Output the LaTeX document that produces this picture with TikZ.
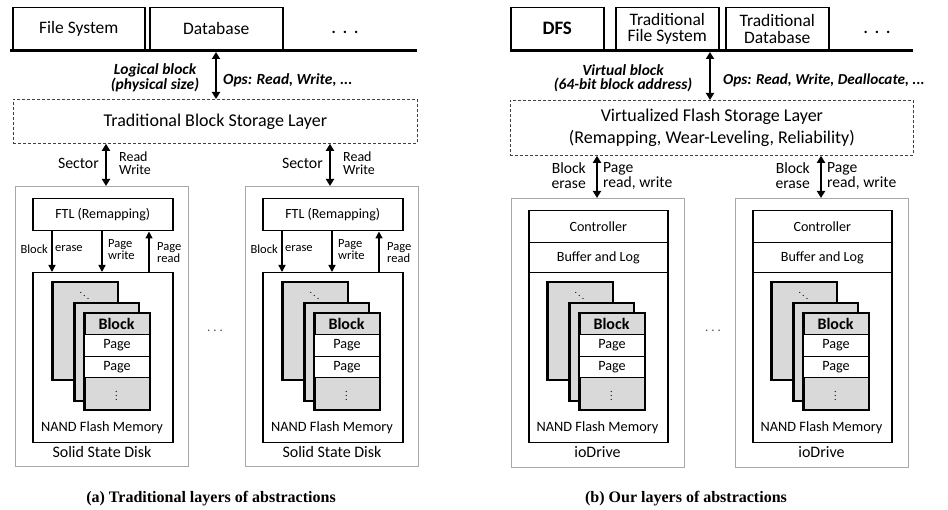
\documentclass[tikz,border=0pt]{standalone}
\usepackage{fontspec}
\setmainfont{Carlito}
\newfontfamily\capfont{Liberation Serif}
\usetikzlibrary{arrows.meta}
\newcommand\fsz[2]{\fontsize{#1}{#2}\selectfont}
\definecolor{blkgray}{HTML}{D9D9D9}
\definecolor{outgray}{HTML}{A8A8A8}
\definecolor{dashgray}{HTML}{404040}

\tikzset{
  rbox/.style={draw=black, line width=1.5pt, fill=white, inner sep=0pt},
  appbox/.style={rbox, font=\fsz{17.5}{16.5}, align=center},
  outbox/.style={draw=outgray, line width=0.8pt, inner sep=0pt},
  layerbox/.style={draw=dashgray, line width=0.8pt, dash pattern=on 3pt off 2pt, inner sep=0pt, align=center, font=\fsz{18}{22}},
  blk/.style={draw=black, line width=1.5pt, fill=blkgray, inner sep=0pt},
  pagebox/.style={draw=black, line width=1pt, fill=white, inner sep=0pt, font=\fsz{14.2}{15}},
  lbl/.style={inner sep=0pt, font=\fsz{12.5}{12}},
  ital/.style={inner sep=0pt, font=\bfseries\itshape\fsz{15.5}{14.5}, align=center},
  dbl/.style={line width=1.8pt, {Triangle[length=7pt,width=8pt]}-{Triangle[length=7pt,width=8pt]}},
  arr/.style={line width=1.4pt, -{Triangle[length=7pt,width=7pt]}},
  captext/.style={inner sep=0pt, font=\capfont\bfseries\fsz{16}{17}},
  dotsA/.style={inner sep=0pt, font=\bfseries\fsz{16}{16}},
  dotsB/.style={inner sep=0pt, font=\fsz{13}{13}, text=black!70},
  edge/.style={draw=black, line width=1.5pt},
}

% rectangle node by its corners: style, x1, y1, x2, y2, name ; text follows
\newcommand\rb[6]{\node[#1, anchor=north west, minimum width={((#4)-(#2))*1pt}, minimum height={((#5)-(#3))*1pt}] (#6) at (#2,#3)}

% block stack: #1 prefix, #2 left x of back block
\newcommand\blockstack[2]{%
  \rb{blk}{#2}{282}{#2+65}{379}{#1b1} {};
  \draw[edge] (#1b1.north west) rectangle (#1b1.south east);
  \node[inner sep=0pt] (#1dd) at (#2+32.5,293) {$\ddots$};
  \rb{blk}{#2+22}{303}{#2+86}{400}{#1b2} {};
  \draw[edge] (#1b2.north west) rectangle (#1b2.south east);
  \rb{blk}{#2+32}{313}{#2+97}{409}{#1b3} {};
  \rb{pagebox}{#2+32}{334}{#2+97}{356}{#1p1} {Page};
  \rb{pagebox}{#2+32}{356}{#2+97}{377}{#1p2} {Page};
  \node[inner sep=0pt, font=\bfseries\fsz{16}{16}] (#1bh) at (#2+64.5,324) {Block};
  \node[inner sep=0pt] (#1vd) at (#2+64.5,393) {$\vdots$};
  \draw[edge] (#1b3.north west) rectangle (#1b3.south east);
}

% SSD unit: #1 prefix, #2 x0 (outer left), #3 sector arrow x
\newcommand\ssdunit[3]{%
  \rb{outbox}{#2}{186}{#2+173}{466}{#1out} {};
  \rb{rbox, font=\fsz{14}{15}}{#2+17}{198}{#2+157}{230}{#1ftl} {FTL (Remapping)};
  \rb{rbox}{#2+17}{272}{#2+157}{442}{#1nand} {};
  \blockstack{#1s}{#2+37}
  \node[inner sep=0pt, font=\fsz{14.3}{15}] (#1nt) at (#2+87,428) {NAND Flash Memory};
  \node[inner sep=0pt, font=\fsz{16}{17}] (#1st) at (#2+87,452) {Solid State Disk};
  \coordinate (#1c1) at (#2+37,0);
  \coordinate (#1c2) at (#2+87,0);
  \coordinate (#1c3) at (#2+134,0);
  \coordinate (#1ca) at (#3,0);
  \draw[arr] (#1ftl.south -| #1c1) -- (#1nand.north -| #1c1);
  \draw[arr] (#1ftl.south -| #1c2) -- (#1nand.north -| #1c2);
  \draw[arr] (#1nand.north -| #1c3) -- (#1ftl.south -| #1c3);
  \node[lbl, anchor=east] (#1l1) at (#2+33,249) {Block};
  \node[lbl, anchor=west] (#1l2) at (#2+40,249) {erase};
  \node[lbl, anchor=west, align=left] (#1l3) at (#2+93,250) {Page\\write};
  \node[lbl, anchor=west, align=left] (#1l4) at (#2+142,253) {Page\\read};
  \draw[dbl] (layerA.south -| #1ca) -- (#1out.north -| #1ca);
  \node[inner sep=0pt, font=\fsz{15.8}{16}, anchor=east] (#1sec) at (#3-7,163) {Sector};
  \node[inner sep=0pt, font=\fsz{14}{13}, anchor=west, align=left] (#1rw) at (#3+13,163.5) {Read\\Write};
}

% ioDrive unit: #1 prefix, #2 x0 (outer left)
\newcommand\iounit[2]{%
  \rb{outbox}{#2}{198}{#2+173}{467}{#1out} {};
  \rb{rbox, font=\fsz{14.1}{15}}{#2+17}{210}{#2+156}{242}{#1ctl} {Controller};
  \rb{rbox, font=\fsz{14.1}{15}}{#2+17}{242}{#2+156}{272}{#1buf} {Buffer and Log};
  \rb{rbox}{#2+17}{272}{#2+156}{442}{#1nand} {};
  \blockstack{#1s}{#2+36}
  \node[inner sep=0pt, font=\fsz{14.3}{15}] (#1nt) at (#2+86.5,428) {NAND Flash Memory};
  \node[inner sep=0pt, font=\fsz{16}{17}] (#1st) at (#2+86.5,452) {ioDrive};
  \coordinate (#1ca) at (#2+86,0);
  \draw[dbl] (layerB.south -| #1ca) -- (#1out.north -| #1ca);
  \node[inner sep=0pt, font=\fsz{15.6}{15}, anchor=east, align=right] (#1be) at (#2+75,176) {Block\\erase};
  \node[inner sep=0pt, font=\fsz{15.6}{15}, anchor=west, align=left] (#1pr) at (#2+92,176) {Page\\read, write};
}

\begin{document}
\begin{tikzpicture}[x=1pt,y=-1pt]
\useasboundingbox[fill=white] (0,0) rectangle (948,510);

%%%%%%%% (a) left panel
\rb{appbox}{12}{7}{144}{49}{fs} {File System};
\rb{appbox}{149}{7}{282}{49}{db} {Database};
\node[dotsA] (dA) at (345,32) {.\hspace{7pt}.\hspace{7pt}.};
\coordinate (lAs) at (10,50.5);
\coordinate (lAe) at (417,50.5);
\draw[line width=3pt] (lAs) -- (lAe);
\rb{layerbox}{13}{99}{417}{143}{layerA} {Traditional Block Storage Layer};
\coordinate (aA) at (216,52);
\draw[dbl] (aA) -- (layerA.north -| aA);
\node[ital] (lbA) at (155,78) {Logical block\\(physical size)};
\node[ital, anchor=west] (opsA) at (223,80) {Ops: Read, Write, ...};

\ssdunit{u1}{15}{106}
\ssdunit{u2}{245}{330}
\node[dotsB] (mdA) at (215,331) {.\hspace{3pt}.\hspace{3pt}.};

\node[captext] (capA) at (211,499) {(a) Traditional layers of abstractions};

%%%%%%%% (b) right panel
\rb{appbox, font=\bfseries\fsz{19}{19}}{510}{7}{603}{49}{dfs} {DFS};
\rb{appbox}{615}{7}{718}{49}{tfs} {Traditional\\File System};
\rb{appbox}{725}{7}{828}{49}{tdb} {Traditional\\Database};
\node[dotsA] (dB) at (877,32) {.\hspace{7pt}.\hspace{7pt}.};
\coordinate (lBs) at (510,50.5);
\coordinate (lBe) at (913,50.5);
\draw[line width=3pt] (lBs) -- (lBe);
\rb{layerbox}{510}{100}{913}{155}{layerB} {Virtualized Flash Storage Layer\\(Remapping, Wear-Leveling, Reliability)};
\coordinate (aB) at (710,52);
\draw[dbl] (aB) -- (layerB.north -| aB);
\node[ital] (vbB) at (623,78) {Virtual block\\(64-bit block address)};
\node[ital, anchor=west, font=\bfseries\itshape\fsz{15.2}{14.5}] (opsB) at (723,80) {Ops: Read, Write, Deallocate, ...};

\iounit{v1}{511}
\iounit{v2}{735}
\node[dotsB] (mdB) at (713,331) {.\hspace{3pt}.\hspace{3pt}.};

\node[captext] (capB) at (686,499) {(b) Our layers of abstractions};
\end{tikzpicture}
\end{document}
